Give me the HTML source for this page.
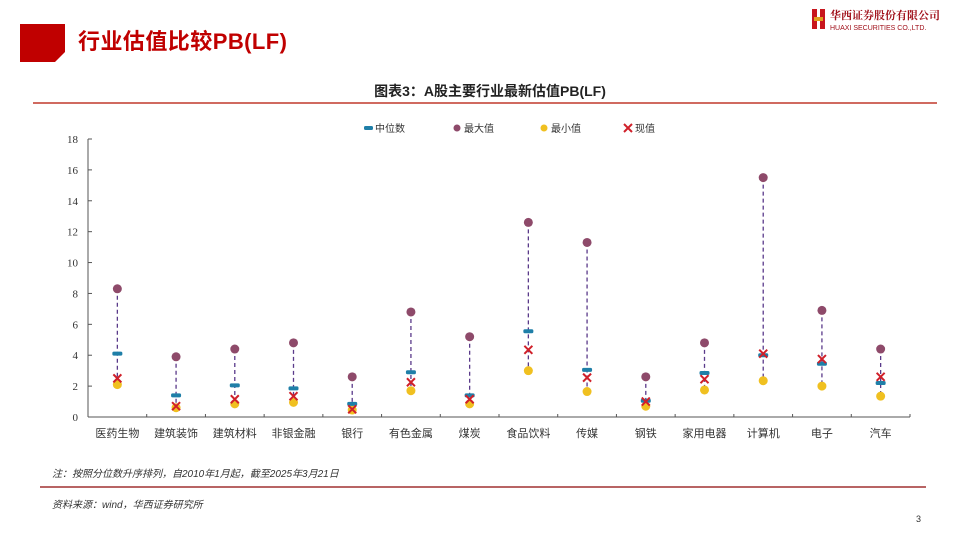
<!DOCTYPE html>
<html><head><meta charset="utf-8"><style>
body{margin:0;width:960px;height:538px;background:#fff;position:relative;overflow:hidden;font-family:"Liberation Sans","Noto Sans CJK SC",sans-serif}
.a{position:absolute;white-space:nowrap}
</style></head><body>
<svg class="a" style="left:0;top:0" width="960" height="538">
<polygon points="20,24 65,24 65,52 55,62 20,62" fill="#c00000"/>
<text x="78" y="49" font-size="22" font-weight="bold" fill="#c00000" font-family="Liberation Sans,Noto Sans CJK SC,sans-serif" textLength="209">行业估值比较PB(LF)</text>
<g>
<rect x="812" y="9" width="5" height="20" fill="#c8161d"/><rect x="820" y="9" width="5" height="20" fill="#c8161d"/><rect x="814" y="17" width="9" height="4" fill="#e0a020"/>
<text x="830" y="19" font-size="11" font-weight="bold" fill="#a0101a" font-family="Noto Serif CJK SC,serif">华西证券股份有限公司</text>
<text x="830" y="30" font-size="7" fill="#a0101a" font-family="Liberation Sans,sans-serif">HUAXI SECURITIES CO.,LTD.</text>
</g>
<text x="490" y="96" font-size="14" font-weight="bold" text-anchor="middle" fill="#222" font-family="Liberation Sans,Noto Sans CJK SC,sans-serif">图表3：A股主要行业最新估值PB(LF)</text>
<line x1="33" y1="103" x2="937" y2="103" stroke="#c0392b" stroke-width="1.5"/>
<g id="chart"></g>
<text x="52" y="477" font-size="10" font-style="italic" fill="#333" font-family="Liberation Sans,Noto Sans CJK SC,sans-serif">注：按照分位数升序排列，自2010年1月起，截至2025年3月21日</text>
<line x1="40" y1="487" x2="926" y2="487" stroke="#a03030" stroke-width="1.5"/>
<text x="52" y="508" font-size="10" font-style="italic" fill="#333" font-family="Liberation Sans,Noto Sans CJK SC,sans-serif">资料来源：wind，华西证券研究所</text>
<text x="916" y="522" font-size="9" fill="#333">3</text>
</svg>
<script>
const categories=["医药生物","建筑装饰","建筑材料","非银金融","银行","有色金属","煤炭","食品饮料","传媒","钢铁","家用电器","计算机","电子","汽车"];
const maxVals=[8.3,3.9,4.4,4.8,2.6,6.8,5.2,12.6,11.3,2.6,4.8,15.5,6.9,4.4];
const medianVals=[4.1,1.4,2.05,1.85,0.85,2.9,1.4,5.55,3.05,1.05,2.85,4.0,3.45,2.2];
const minVals=[2.1,0.6,0.85,0.95,0.45,1.7,0.85,3.0,1.65,0.7,1.75,2.35,2.0,1.35];
const curVals=[2.5,0.7,1.15,1.35,0.5,2.25,1.15,4.35,2.55,1.0,2.45,4.1,3.75,2.6];
const yTicks=[0,2,4,6,8,10,12,14,16,18];
const legendLabels=["中位数","最大值","最小值","现值"];
const NS="http://www.w3.org/2000/svg",g=document.getElementById('chart');
const X0=88,X1=910,Y0=417,Y1=139,n=categories.length,bw=(X1-X0)/n;
const y=v=>Y0-(v/18)*(Y0-Y1),x=i=>X0+bw*(i+0.5);
function el(t,a,p){const e=document.createElementNS(NS,t);for(const k in a)e.setAttribute(k,a[k]);(p||g).appendChild(e);return e;}
const F="Liberation Sans,Noto Sans CJK SC,sans-serif";
let ax=el('line',{x1:X0,y1:Y1,x2:X0,y2:Y0,stroke:'#555'});


let xa=el('line',{x1:X0,y1:Y0,x2:X1,y2:Y0,stroke:'#555'});


yTicks.forEach(t=>{let e=el('text',{x:X0-10,y:y(t)+4,'font-size':11,'text-anchor':'end',fill:'#333','font-family':'Liberation Serif,serif'});e.textContent=t;


el('line',{x1:X0,y1:y(t),x2:X0+4,y2:y(t),stroke:'#555'});});
for(let i=0;i<=n;i++)el('line',{x1:X0+bw*i,y1:Y0,x2:X0+bw*i,y2:Y0-3,stroke:'#555'});
categories.forEach((c,i)=>{const cx=x(i);
let grp=el('g',{});


el('line',{x1:cx,y1:y(maxVals[i]),x2:cx,y2:y(minVals[i]),stroke:'#5a3a8a','stroke-width':1.3,'stroke-dasharray':'4,3'},grp);
let mx=el('circle',{cx:cx,cy:y(maxVals[i]),r:4.5,fill:'#8e4a6a'},grp);


let mn=el('circle',{cx:cx,cy:y(minVals[i]),r:4.5,fill:'#f0c020'},grp);


let md=el('rect',{x:cx-5,y:y(medianVals[i])-2,width:10,height:4,rx:1.5,fill:'#1f7fa8'},grp);


const cy=y(curVals[i]);
let cu=el('path',{d:`M${cx-4} ${cy-4}L${cx+4} ${cy+4}M${cx+4} ${cy-4}L${cx-4} ${cy+4}`,stroke:'#d0202a','stroke-width':2},grp);


let t=el('text',{x:cx,y:437,'font-size':11,'text-anchor':'middle',fill:'#333','font-family':F},grp);t.textContent=c;


});
const lx=[368,457,544,628];
legendLabels.forEach((l,i)=>{let lg=el('g',{});


const cx=lx[i],cy=128;
if(i==0)el('rect',{x:cx-4,y:cy-2,width:9,height:4,rx:1.5,fill:'#1f7fa8'},lg);
if(i==1)el('circle',{cx:cx,cy:cy,r:3.5,fill:'#8e4a6a'},lg);
if(i==2)el('circle',{cx:cx,cy:cy,r:3.5,fill:'#f0c020'},lg);
if(i==3)el('path',{d:`M${cx-4} ${cy-4}L${cx+4} ${cy+4}M${cx+4} ${cy-4}L${cx-4} ${cy+4}`,stroke:'#d0202a','stroke-width':2},lg);
let t=el('text',{x:cx+7,y:cy+4,'font-size':10,fill:'#333','font-family':F},lg);t.textContent=l;});
</script>
</body></html>
